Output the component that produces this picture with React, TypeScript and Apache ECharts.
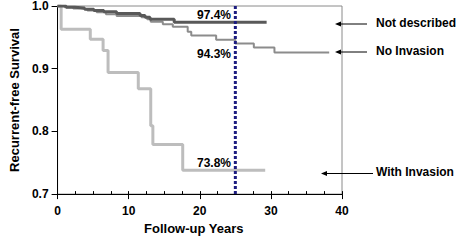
import React, { useEffect, useRef } from "react";
import * as echarts from "echarts";

const xTicks = [0, 10, 20, 30, 40];
const yTicks = [0.7, 0.8, 0.9, 1.0];

const notDescribedTimes = [0, 1.2, 2.4, 3.8, 5.1, 6.5, 8.3, 11.6, 12.3, 13.0, 16.4, 29.4];
const notDescribedValues = [1.0, 0.998, 0.997, 0.995, 0.993, 0.991, 0.988, 0.985, 0.982, 0.979, 0.974, 0.974];

const noInvasionTimes = [0, 1.0, 2.2, 3.2, 4.2, 5.5, 6.8, 8.3, 11.8, 12.6, 13.1, 14.8, 16.2, 18.3, 18.8, 22.3, 25.0, 27.6, 30.5, 38.2];
const noInvasionValues = [1.0, 0.998, 0.996, 0.995, 0.993, 0.99, 0.987, 0.984, 0.982, 0.979, 0.975, 0.971, 0.967, 0.959, 0.953, 0.946, 0.94, 0.934, 0.926, 0.926];

const withInvasionTimes = [0, 0.5, 4.6, 6.4, 7.1, 11.35, 13.1, 13.4, 17.6, 29.2];
const withInvasionValues = [1.0, 0.963, 0.947, 0.929, 0.894, 0.868, 0.809, 0.779, 0.738, 0.738];

const cutoffYear = 25;
const pctLabels = [
  { text: "97.4%", value: 0.974 },
  { text: "94.3%", value: 0.943 },
  { text: "73.8%", value: 0.738 },
];
const groupNames = ["Not described", "No Invasion", "With Invasion"];

const toPairs = (t: number[], v: number[]) => t.map((x, i) => [x, v[i]]);

export default function App() {
  const ref = useRef<HTMLDivElement>(null);
  useEffect(() => {
    if (!ref.current) return;
    const chart = echarts.init(ref.current, undefined, { renderer: "svg" });
    const font = "Liberation Sans, Arial, sans-serif";
    const bold = { fontFamily: font, fontWeight: "bold" as const, fontSize: 12, color: "#000" };
    const arrow = (x1: number, x2: number, y: number) => [
      { type: "line", shape: { x1: x1 + 4, y1: y, x2, y2: y }, style: { stroke: "#000", lineWidth: 1 } },
      { type: "polygon", shape: { points: [[x1, y], [x1 + 6, y - 2.5], [x1 + 6, y + 2.5]] }, style: { fill: "#000" } },
    ];
    chart.setOption({
      animation: false,
      backgroundColor: "#fff",
      grid: { left: 53, top: 5, right: 116, bottom: 45, show: true, borderColor: "#8a8a8a", borderWidth: 1 },
      xAxis: [
        {
          type: "value", min: xTicks[0], max: xTicks[xTicks.length - 1], interval: 10,
          name: "Follow-up Years", nameLocation: "middle", nameGap: 25,
          nameTextStyle: { ...bold, fontSize: 13, padding: [0, 12, 0, 0] },
          axisLine: { lineStyle: { color: "#000", width: 1 } },
          axisTick: { length: 5, lineStyle: { color: "#000" } },
          axisLabel: { ...bold, margin: 11 },
          splitLine: { show: false },
        },
        {
          type: "value", min: 0, max: 40, interval: 2.5, position: "bottom",
          axisLine: { show: false },
          axisTick: { inside: true, length: 3, lineStyle: { color: "#000" } },
          axisLabel: { show: false },
          splitLine: { show: false },
        },
      ],
      yAxis: {
        type: "value", min: yTicks[0], max: yTicks[yTicks.length - 1], interval: 0.1,
        name: "Recurrent-free Survival", nameLocation: "middle", nameGap: 36,
        nameTextStyle: { ...bold, fontSize: 13 },
        axisLine: { show: true, lineStyle: { color: "#000", width: 1 } },
        axisTick: { show: true, length: 6, lineStyle: { color: "#000" } },
        axisLabel: { ...bold, margin: 9, formatter: (v: number) => v.toFixed(1) },
        splitLine: { show: false },
      },
      series: [
        {
          name: groupNames[2], type: "line", step: "end", symbol: "none",
          data: toPairs(withInvasionTimes, withInvasionValues),
          lineStyle: { color: "#bdbdbd", width: 3 },
        },
        {
          name: groupNames[1], type: "line", step: "end", symbol: "none",
          data: toPairs(noInvasionTimes, noInvasionValues),
          lineStyle: { color: "#8c8c8c", width: 2 },
        },
        {
          name: groupNames[0], type: "line", step: "end", symbol: "none",
          data: toPairs(notDescribedTimes, notDescribedValues),
          lineStyle: { color: "#595959", width: 3 },
        },
        {
          name: "cutoff", type: "line", symbol: "none",
          data: [[cutoffYear, yTicks[0]], [cutoffYear, yTicks[yTicks.length - 1]]],
          lineStyle: { color: "#1c1c80", width: 3, type: [3, 2] },
          z: 5,
        },
      ],
      graphic: [
        { type: "text", left: 197, top: 9, style: { text: pctLabels[0].text, font: `bold 12px ${font}`, fill: "#000" } },
        { type: "text", left: 197, top: 48, style: { text: pctLabels[1].text, font: `bold 12px ${font}`, fill: "#000" } },
        { type: "text", left: 197, top: 157, style: { text: pctLabels[2].text, font: `bold 12px ${font}`, fill: "#000" } },
        { type: "text", left: 376, top: 17, style: { text: groupNames[0], font: `bold 12px ${font}`, fill: "#000" } },
        { type: "text", left: 376, top: 45, style: { text: groupNames[1], font: `bold 12px ${font}`, fill: "#000" } },
        { type: "text", left: 376, top: 166, style: { text: groupNames[2], font: `bold 12px ${font}`, fill: "#000" } },
        ...arrow(335, 367, 24),
        ...arrow(335, 367, 52),
        ...arrow(321, 373, 173.5),
      ],
    });
    return () => chart.dispose();
  }, []);
  return <div ref={ref} style={{ width: 458, height: 240, position: "absolute", left: 0, top: 0 }} />;
}
